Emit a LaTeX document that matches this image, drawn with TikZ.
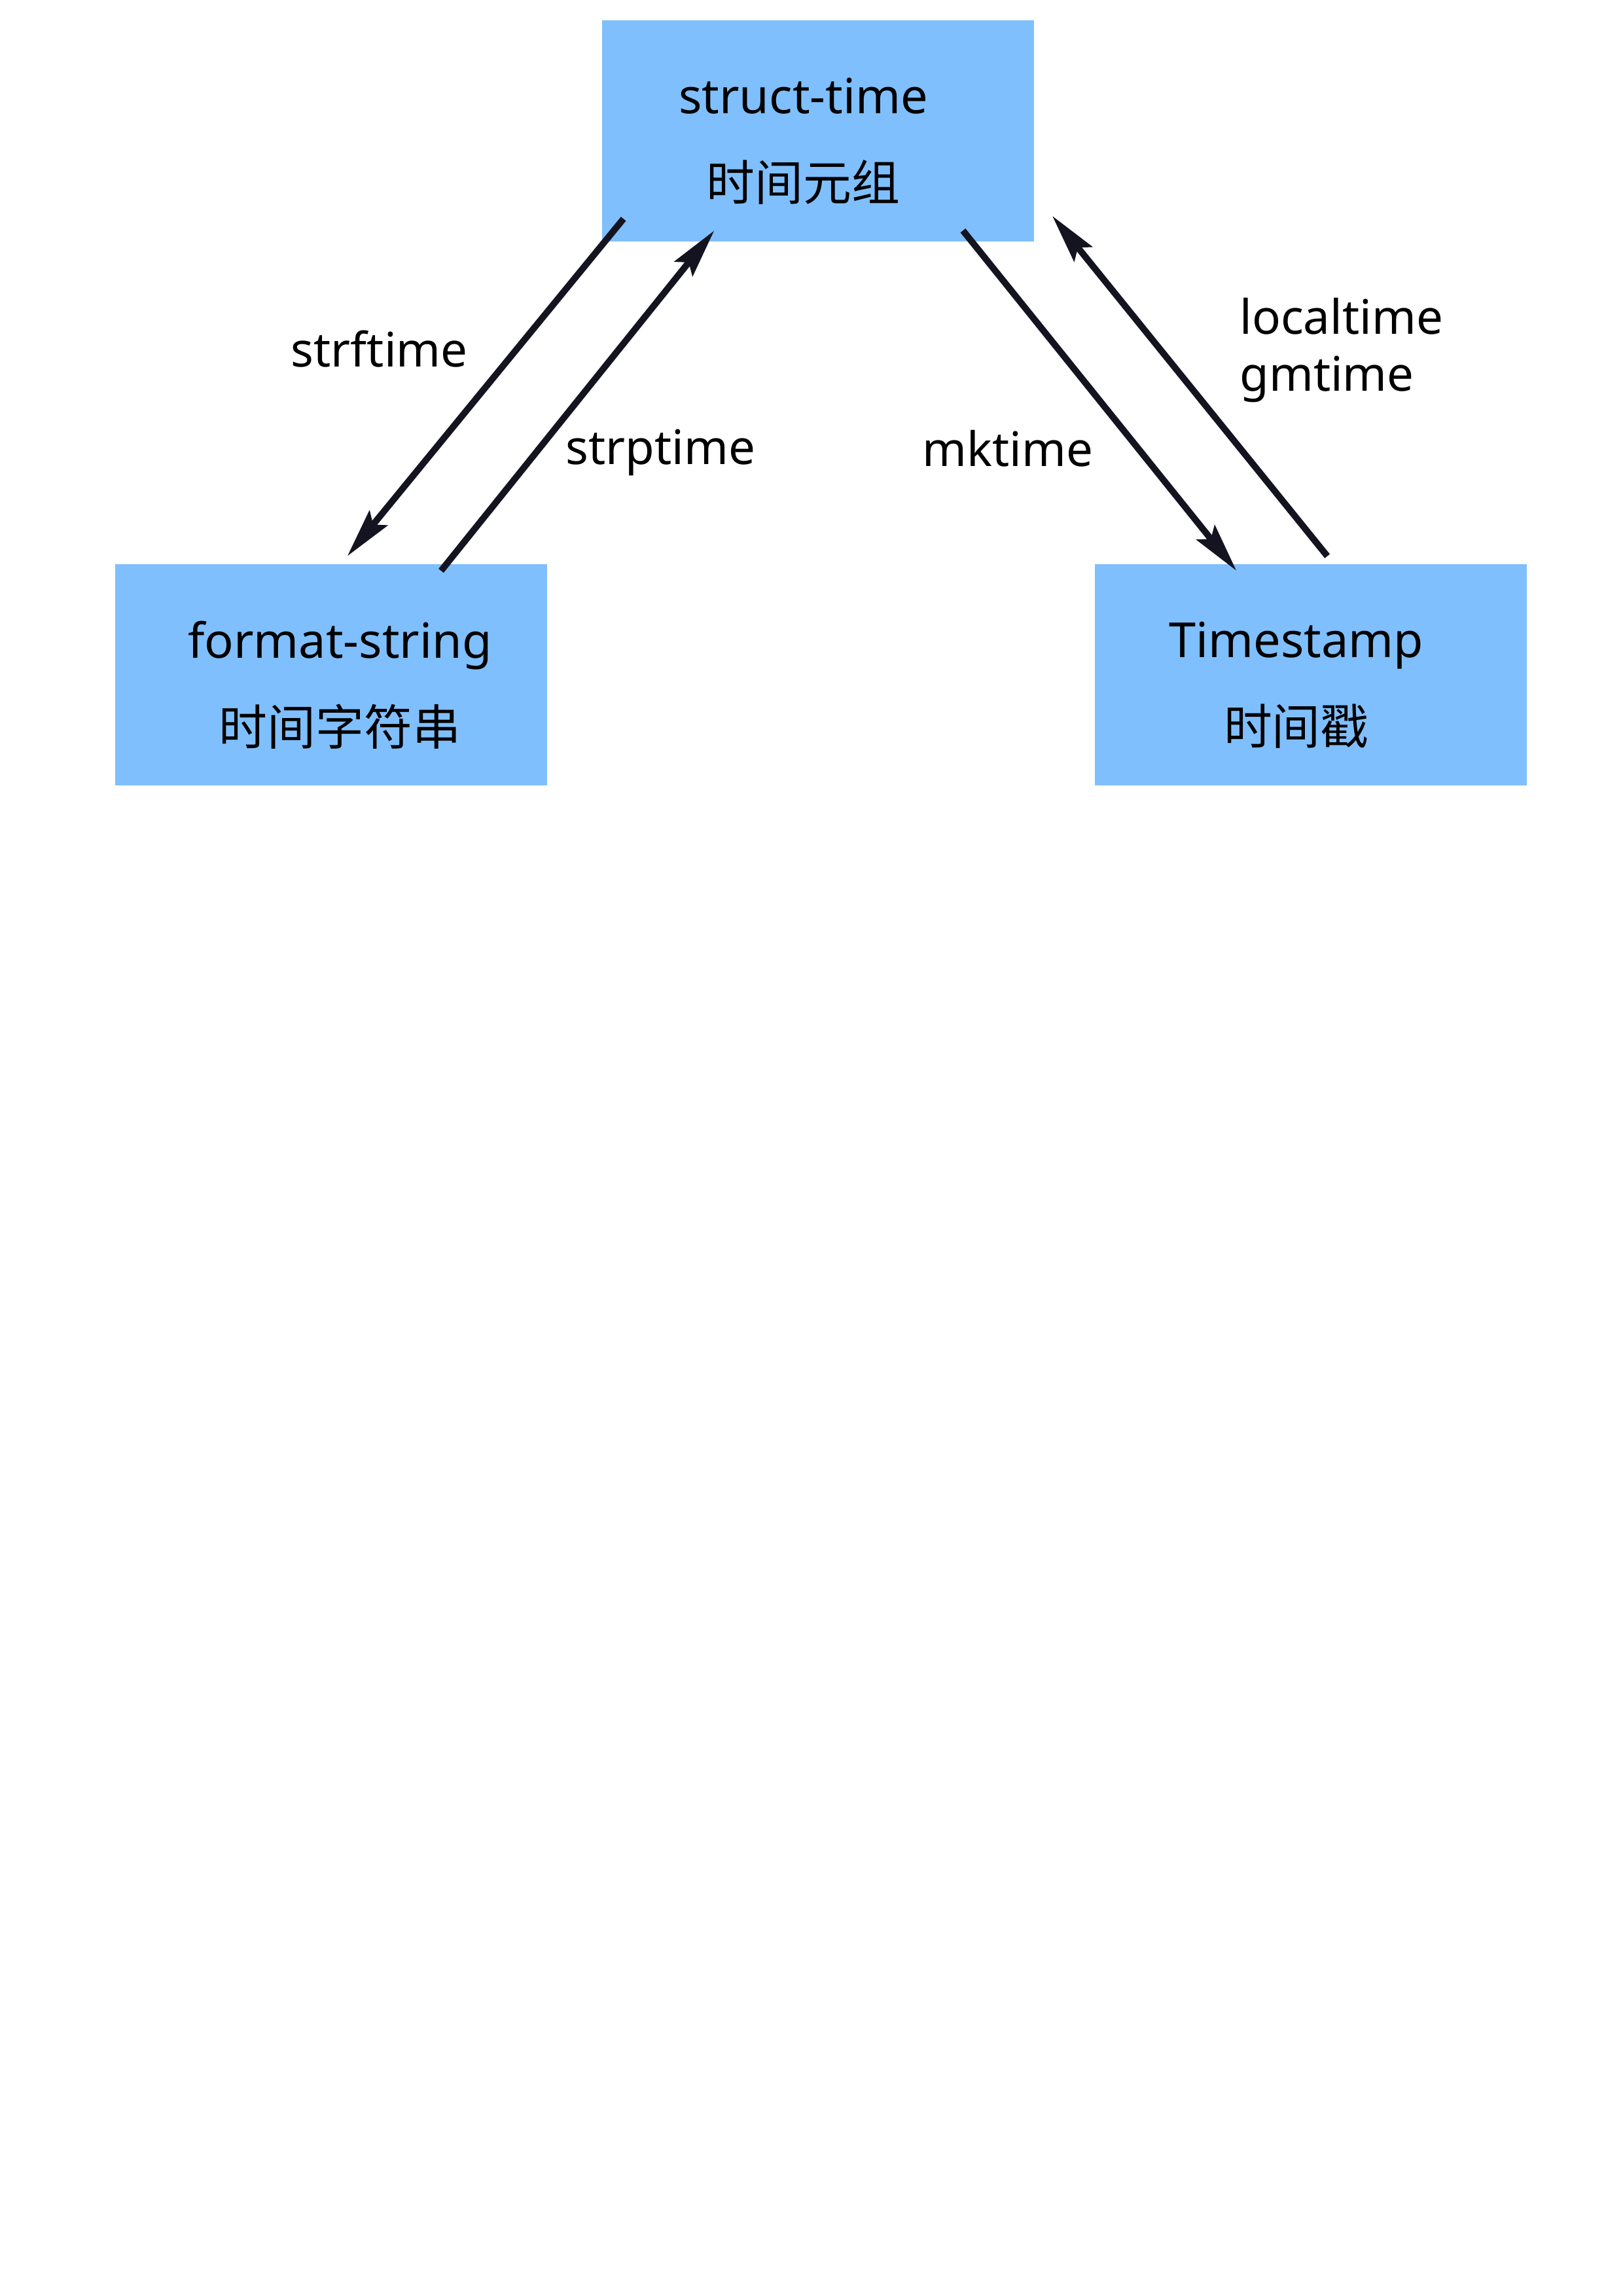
\documentclass[tikz,border=0pt]{standalone}
\usepackage{fontspec}
\setmainfont{Noto Sans}
\newfontfamily\cjk{Noto Sans CJK SC}
\usepackage{xcolor}
\usetikzlibrary{arrows.meta}
\definecolor{boxblue}{HTML}{80BFFD}
\definecolor{arrowink}{HTML}{141421}

\tikzset{
  timebox/.style={fill=boxblue, minimum width=5.591cm, minimum height=2.862cm, inner sep=0pt},
  boxtext/.style={align=center, inner sep=0pt, font=\fontsize{17.8}{32}\selectfont},
  convarrow/.style={draw=arrowink, line width=2.4pt, -{Stealth[length=18pt, width=8.5pt, inset=3pt]}},
  funclabel/.style={font=\fontsize{17.5}{21}\selectfont, inner sep=0pt}
}

\begin{document}
\begin{tikzpicture}[x=0.018953cm, y=-0.018953cm]%
\useasboundingbox (0,0) rectangle (1108,1567.3);%
% the three time forms
\node[timebox, label={[boxtext, shift={(-10,7)}]center:struct-time\\{\cjk 时间元组}}] (st) at (558.5, 89.5) {};%
\node[timebox, label={[boxtext, shift={(6,7)}]center:format-string\\{\cjk 时间字符串}}] (fs) at (226, 460.5) {};%
\node[timebox, label={[boxtext, shift={(-10,7)}]center:Timestamp\\{\cjk 时间戳}}] (ts) at (895, 460.5) {};%
% conversions
\draw[convarrow] ([shift={(15,-16)}]st.south west) -- ([shift={(159,-5)}]fs.north west);%
\draw[convarrow] ([shift={(223,5)}]fs.north west) -- ([shift={(77,-8)}]st.south west);%
\draw[convarrow] ([shift={(-49,-8)}]st.south east) -- ([shift={(97,5)}]ts.north west);%
\draw[convarrow] ([shift={(159,-5)}]ts.north west) -- ([shift={(12,-18)}]st.south east);%
\node[funclabel] (lstrf) at (259, 238) {strftime};%
\node[funclabel] (lstrp) at (451, 309) {strptime};%
\node[funclabel] (lmk) at (688, 306) {mktime};%
\node[funclabel, anchor=west, align=left] (llocal) at (846, 239) {localtime\\gmtime};%
\end{tikzpicture}
\end{document}
